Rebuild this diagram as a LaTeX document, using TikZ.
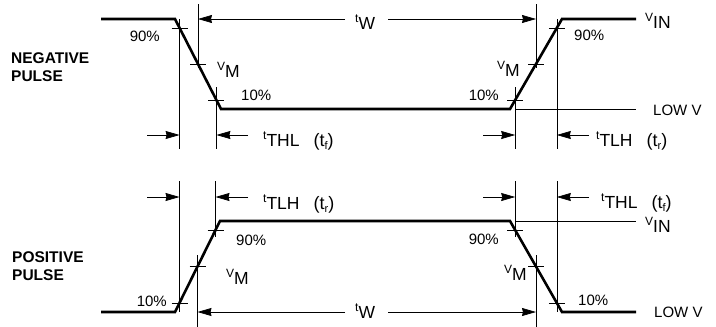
\documentclass[tikz,border=0pt]{standalone}
\usepackage{fontspec}
\setmainfont{Liberation Sans}
\usetikzlibrary{calc,arrows.meta}
\newcommand\lbl[2]{\raisebox{7pt}{\fontsize{12}{12}\selectfont #1}{\fontsize{17.5}{18}\selectfont #2}}
\newcommand\tsub[1]{{\fontsize{18}{18}\selectfont (t\raisebox{-3pt}{\fontsize{11}{11}\selectfont #1})}}

\begin{document}
\begin{tikzpicture}[x=1pt,y=-1pt,
  wave/.style={line width=2.6pt},
  guide/.style={line width=0.6pt},
  tick/.style={line width=0.7pt},
  dim/.style={line width=0.7pt,-{Stealth[length=14pt,width=8pt,inset=1pt]}},
  every node/.style={inner sep=0pt,font=\fontsize{15}{18}\selectfont}]
\useasboundingbox (0,0) rectangle (716,327);

% negative pulse
\coordinate (a0) at (101,19);
\coordinate (a1) at (175,19);
\coordinate (a2) at (221,109);
\coordinate (a3) at (510,109);
\coordinate (a4) at (562,19);
\coordinate (a5) at (636,19);
\coordinate (f90) at ($(a1)!0.1!(a2)$);
\coordinate (fM) at ($(a1)!0.5!(a2)$);
\coordinate (f10) at ($(a1)!0.9!(a2)$);
\coordinate (r10) at ($(a3)!0.1!(a4)$);
\coordinate (rM) at ($(a3)!0.5!(a4)$);
\coordinate (r90) at ($(a3)!0.9!(a4)$);
\draw[wave] (a0) -- (a1) -- (a2) -- (a3) -- (a4) -- (a5);
\draw[guide] (f90 |- a1) -- (f90 |- 0,149) (f10 |- 0,87) -- (f10 |- 0,149)
  (fM |- 0,4) -- (fM |- 0,68) (rM |- 0,4) -- (rM |- 0,68)
  (r10 |- 0,87) -- (r10 |- 0,149) (r90 |- a4) -- (r90 |- 0,149)
  (r10 |- a3) -- (a5 |- a3);
\draw[tick] (f90) +(-8,0) -- +(8,0) (fM) +(-8,0) -- +(8,0) (f10) +(-8,0) -- +(8,0)
  (r10) +(-8,0) -- +(8,0) (rM) +(-8,0) -- +(8,0) (r90) +(-8,0) -- +(8,0);
\draw[dim] (345,19) -- (fM |- a1);
\draw[dim] (388,19) -- (rM |- a4);
\draw[dim] (147,135) -- (f90 |- 0,135);
\draw[dim] (248,135) -- (f10 |- 0,135);
\draw[dim] (483,135) -- (r10 |- 0,135);
\draw[dim] (589,135) -- (r90 |- 0,135);
\node[anchor=west,align=left,font=\bfseries\fontsize{15.5}{18}\selectfont] (neg) at (11,67) {NEGATIVE\\PULSE};
\node[anchor=base east] (n90) at (160,41) {90\%};
\node[anchor=base west] (nvm) at (217,77) {\lbl{V}{M}};
\node[anchor=base west] (n10) at (241,100) {10\%};
\node[anchor=base west] (ntw) at (355,29) {\lbl{t}{W}};
\node[anchor=base east] (m10) at (499,100) {10\%};
\node[anchor=base west] (mvm) at (497,76) {\lbl{V}{M}};
\node[anchor=base west] (m90) at (574,40) {90\%};
\node[anchor=base west] (nvin) at (645,28) {\lbl{V}{IN}};
\node[anchor=base west] (nlow) at (653,115) {LOW V};
\node[anchor=base west] (nfall) at (263,146) {\lbl{t}{THL}\hspace{14pt}\tsub{f}};
\node[anchor=base west] (nrise) at (596,146) {\lbl{t}{TLH}\hspace{14pt}\tsub{r}};

% positive pulse
\coordinate (b0) at (101,312);
\coordinate (b1) at (175,312);
\coordinate (b2) at (220,221);
\coordinate (b3) at (510,221);
\coordinate (b4) at (562,312);
\coordinate (b5) at (636,312);
\coordinate (g10) at ($(b1)!0.1!(b2)$);
\coordinate (gM) at ($(b1)!0.5!(b2)$);
\coordinate (g90) at ($(b1)!0.9!(b2)$);
\coordinate (h90) at ($(b3)!0.1!(b4)$);
\coordinate (hM) at ($(b3)!0.5!(b4)$);
\coordinate (h10) at ($(b3)!0.9!(b4)$);
\draw[wave] (b0) -- (b1) -- (b2) -- (b3) -- (b4) -- (b5);
\draw[guide] (g10 |- 0,181) -- (g10 |- b1) (g90 |- 0,181) -- (g90 |- 0,237)
  (gM |- 0,255) -- (gM |- 0,327) (hM |- 0,255) -- (hM |- 0,327)
  (h90 |- 0,181) -- (h90 |- 0,237) (h10 |- 0,181) -- (h10 |- b4)
  (h90 |- b3) -- (b5 |- b3);
\draw[tick] (g10) +(-8,0) -- +(8,0) (gM) +(-8,0) -- +(8,0) (g90) +(-8,0) -- +(8,0)
  (h90) +(-8,0) -- +(8,0) (hM) +(-8,0) -- +(8,0) (h10) +(-8,0) -- +(8,0);
\draw[dim] (345,312) -- (gM |- b1);
\draw[dim] (388,312) -- (hM |- b4);
\draw[dim] (147,197) -- (g10 |- 0,197);
\draw[dim] (248,197) -- (g90 |- 0,197);
\draw[dim] (483,197) -- (h90 |- 0,197);
\draw[dim] (589,197) -- (h10 |- 0,197);
\node[anchor=west,align=left,font=\bfseries\fontsize{15.5}{18}\selectfont] (pos) at (12,266) {POSITIVE\\PULSE};
\node[anchor=base west] (p90) at (236,245) {90\%};
\node[anchor=base west] (pvm) at (226,284) {\lbl{V}{M}};
\node[anchor=base east] (p10) at (167,306) {10\%};
\node[anchor=base west] (ptw) at (355,318) {\lbl{t}{W}};
\node[anchor=base east] (q90) at (499,244) {90\%};
\node[anchor=base west] (qvm) at (504,280) {\lbl{V}{M}};
\node[anchor=base west] (q10) at (578,305) {10\%};
\node[anchor=base west] (qvin) at (645,232) {\lbl{V}{IN}};
\node[anchor=base west] (qlow) at (654,317) {LOW V};
\node[anchor=base west] (prise) at (263,209) {\lbl{t}{TLH}\hspace{14pt}\tsub{r}};
\node[anchor=base west] (pfall) at (601,208) {\lbl{t}{THL}\hspace{14pt}\tsub{f}};
\end{tikzpicture}
\end{document}
